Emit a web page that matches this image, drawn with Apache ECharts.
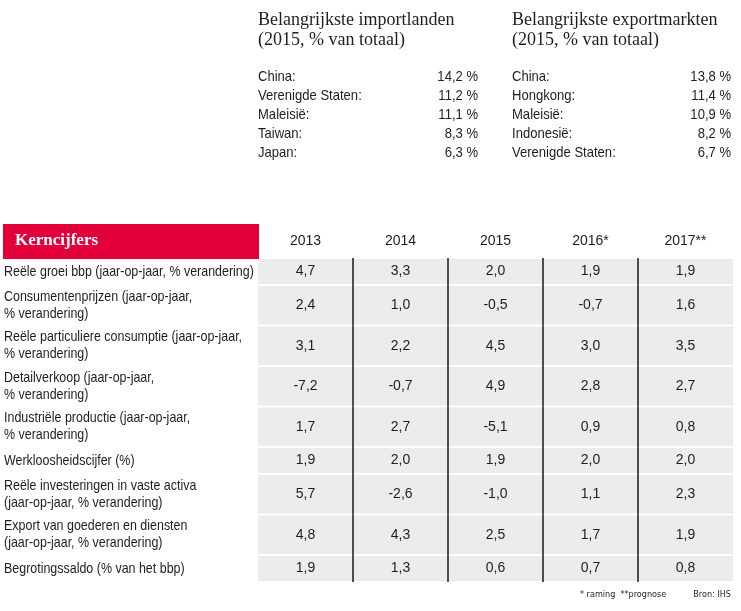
<!DOCTYPE html>
<html><head><meta charset="utf-8">
<script src="https://cdn.jsdelivr.net/npm/echarts@6/dist/echarts.min.js"></script>
<style>html,body{margin:0;padding:0;background:#fff}#c{width:741px;height:611px}</style>
</head><body><div id="c"></div>
<script>
// ---- data ----
const importCountries = ['China:', 'Verenigde Staten:', 'Maleisië:', 'Taiwan:', 'Japan:'];
const importShares = [14.2, 11.2, 11.1, 8.3, 6.3];
const exportCountries = ['China:', 'Hongkong:', 'Maleisië:', 'Indonesië:', 'Verenigde Staten:'];
const exportShares = [13.8, 11.4, 10.9, 8.2, 6.7];

const years = ['2013', '2014', '2015', '2016*', '2017**'];
const indicators = [
  'Reële groei bbp (jaar-op-jaar, % verandering)',
  'Consumentenprijzen (jaar-op-jaar,\n% verandering)',
  'Reële particuliere consumptie (jaar-op-jaar,\n% verandering)',
  'Detailverkoop (jaar-op-jaar,\n% verandering)',
  'Industriële productie (jaar-op-jaar,\n% verandering)',
  'Werkloosheidscijfer (%)',
  'Reële investeringen in vaste activa\n(jaar-op-jaar, % verandering)',
  'Export van goederen en diensten\n(jaar-op-jaar, % verandering)',
  'Begrotingssaldo (% van het bbp)'
];
const gdpGrowth = [4.7, 3.3, 2.0, 1.9, 1.9];
const consumerPrices = [2.4, 1.0, -0.5, -0.7, 1.6];
const privateConsumption = [3.1, 2.2, 4.5, 3.0, 3.5];
const retailSales = [-7.2, -0.7, 4.9, 2.8, 2.7];
const industrialProduction = [1.7, 2.7, -5.1, 0.9, 0.8];
const unemployment = [1.9, 2.0, 1.9, 2.0, 2.0];
const fixedInvestment = [5.7, -2.6, -1.0, 1.1, 2.3];
const exportsGS = [4.8, 4.3, 2.5, 1.7, 1.9];
const budgetBalance = [1.9, 1.3, 0.6, 0.7, 0.8];

// ---- build ----
const table = [gdpGrowth, consumerPrices, privateConsumption, retailSales, industrialProduction,
  unemployment, fixedInvestment, exportsGS, budgetBalance];
const SANS = '"Liberation Sans", Arial, sans-serif';
const SMALL = '"DejaVu Sans Condensed", sans-serif';
const SERIF = '"Liberation Serif", "DejaVu Serif", serif';
const TXT = '#1e1e1e';
const GREY = '#ececec';
const RED = '#e3003a';

const fmt = v => v.toFixed(1).replace('.', ',');
const rowWeight = indicators.map(l => l.split('\n').length === 1 ? 2 : 3);
const rowStart = [];
rowWeight.reduce((acc, w, i) => { rowStart[i] = acc; return acc + w; }, 0);
const total = rowWeight.reduce((a, b) => a + b, 0);

const cellData = [];
table.forEach((vals, r) => vals.forEach((v, c) => cellData.push([c, r, v])));
const labelData = indicators.map((l, r) => [0, r]);

const graphics = [];
function heading(x, text) {
  graphics.push({ type: 'text', x: x, y: 10, style: { text: text, font: '18px ' + SERIF, fill: TXT,
    lineHeight: 20, textVerticalAlign: 'top', verticalAlign: 'top' } });
}
heading(258, 'Belangrijkste importlanden\n(2015, % van totaal)');
heading(512, 'Belangrijkste exportmarkten\n(2015, % van totaal)');
function list(names, vals, xl, xr) {
  names.forEach((n, i) => {
    const y = 77 + i * 19;
    graphics.push({ type: 'text', x: xl, y: y, scaleX: 0.87, style: { text: n, font: '15px ' + SANS, fill: TXT,
      textVerticalAlign: 'middle', verticalAlign: 'middle' } });
    graphics.push({ type: 'text', x: xr, y: y, scaleX: 0.87, style: { text: fmt(vals[i]) + ' %', font: '15px ' + SANS, fill: TXT,
      textAlign: 'right', align: 'right', textVerticalAlign: 'middle', verticalAlign: 'middle' } });
  });
}
list(importCountries, importShares, 258, 478);
list(exportCountries, exportShares, 512, 731);
graphics.push({ type: 'rect', shape: { x: 3, y: 224, width: 256, height: 35 }, style: { fill: RED } });
graphics.push({ type: 'text', x: 15, y: 241, style: { text: 'Kerncijfers', font: 'bold 17px ' + SERIF, fill: '#fff',
  textVerticalAlign: 'middle', verticalAlign: 'middle' } });
graphics.push({ type: 'text', x: 580, y: 595, style: { text: '* raming  **prognose', font: '9px ' + SMALL, fill: TXT,
  textVerticalAlign: 'middle', verticalAlign: 'middle' } });
graphics.push({ type: 'text', x: 731, y: 595, style: { text: 'Bron: IHS', font: '9px ' + SMALL, fill: TXT,
  textAlign: 'right', align: 'right', textVerticalAlign: 'middle', verticalAlign: 'middle' } });

const chart = echarts.init(document.getElementById('c'), null, { renderer: 'canvas' });
chart.setOption({
  animation: false,
  backgroundColor: '#fff',
  graphic: graphics,
  grid: [
    { left: 0, width: 258, top: 258, bottom: 29 },
    { left: 258, right: 8, top: 258, bottom: 29 }
  ],
  xAxis: [
    { gridIndex: 0, type: 'category', data: [''], show: false },
    { gridIndex: 1, type: 'category', data: years, position: 'top',
      axisLine: { show: false }, axisTick: { show: false }, splitLine: { show: false },
      axisLabel: { margin: 10, fontSize: 14, fontFamily: SANS, color: TXT } }
  ],
  yAxis: [
    { gridIndex: 0, type: 'value', min: 0, max: total, inverse: true, show: false },
    { gridIndex: 1, type: 'value', min: 0, max: total, inverse: true, show: false }
  ],
  series: [
    {
      type: 'custom', xAxisIndex: 1, yAxisIndex: 1, data: cellData,
      renderItem: function (params, api) {
        const c = api.value(0), r = api.value(1), v = api.value(2);
        const p0 = api.coord([c, rowStart[r]]);
        const p1 = api.coord([c, rowStart[r] + rowWeight[r]]);
        const w = api.size([1, 0])[0];
        const left = p0[0] - w / 2;
        const children = [
          { type: 'rect', shape: { x: left, y: p0[1] + 1, width: w, height: p1[1] - p0[1] - 2 }, style: { fill: GREY } },
          { type: 'text', style: { text: fmt(v), x: p0[0], y: (p0[1] + p1[1]) / 2, font: '14px ' + SANS, fill: TXT,
            textAlign: 'center', align: 'center', textVerticalAlign: 'middle', verticalAlign: 'middle' } }
        ];
        if (c > 0) {
          children.push({ type: 'line', shape: { x1: left, y1: p0[1], x2: left, y2: p1[1] },
            style: { stroke: '#1a1a1a', lineWidth: 1.5 } });
        }
        return { type: 'group', children: children };
      }
    },
    {
      type: 'custom', xAxisIndex: 0, yAxisIndex: 0, data: labelData,
      renderItem: function (params, api) {
        const r = api.value(1);
        const p0 = api.coord([0, rowStart[r]]);
        const p1 = api.coord([0, rowStart[r] + rowWeight[r]]);
        const w = api.size([1, 0])[0];
        return { type: 'text', x: p0[0] - w / 2 + 4, y: (p0[1] + p1[1]) / 2, scaleX: 0.83,
          style: { text: indicators[r], x: 0, y: 0,
          font: '15px ' + SANS, fill: TXT, lineHeight: 17,
          textVerticalAlign: 'middle', verticalAlign: 'middle' } };
      }
    }
  ]
});
</script></body></html>
